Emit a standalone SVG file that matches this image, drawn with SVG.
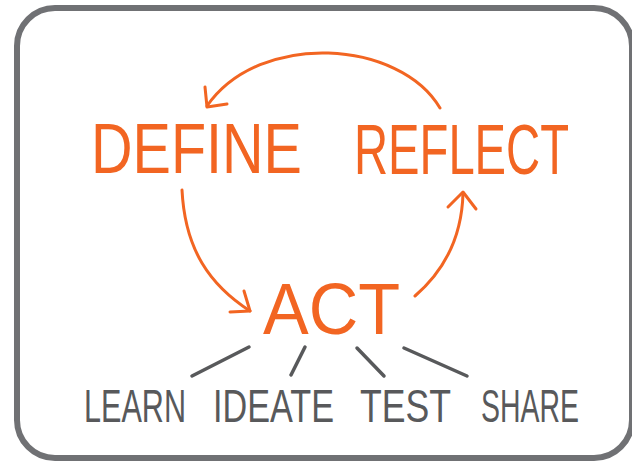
<svg xmlns="http://www.w3.org/2000/svg" width="632" height="463" viewBox="0 0 632 463">
  <style>
    .orange { fill: #f26522; font-family: "Liberation Sans", Arial, sans-serif; }
    .gray { fill: #58595b; font-family: "Liberation Sans", Arial, sans-serif; }
    .arc { fill: none; stroke: #f26522; stroke-width: 3; stroke-linecap: round; stroke-linejoin: round; }
    .link { fill: none; stroke: #58595b; stroke-width: 3.5; stroke-linecap: round; }
  </style>
  <rect width="632" height="463" fill="#ffffff"/>
  <rect id="frame" x="17" y="8" width="615" height="450" rx="38" ry="38" fill="#ffffff" stroke="#707174" stroke-width="6"/>

  <g id="connectors">
    <path class="arc" d="M440,108 C400,40 260,30 207,106"/>
    <path class="arc" d="M205,87 L207,107 L227,104"/>
    <path class="arc" d="M182,190 C185,250 210,285 250,311"/>
    <path class="arc" d="M244,291 L250,311 L230,312"/>
    <path class="arc" d="M415,296 C445,270 462,235 463,193"/>
    <path class="arc" d="M448,207 L463,192 L476,209"/>
    <line class="link" x1="249" y1="347" x2="192" y2="376"/>
    <line class="link" x1="305" y1="347" x2="291" y2="375"/>
    <line class="link" x1="357" y1="348" x2="384" y2="376"/>
    <line class="link" x1="404" y1="348" x2="467" y2="376"/>
  </g>

  <g id="define" transform="translate(91,173) scale(1,1.21)"><text class="orange" x="0" y="0" font-size="57.5" textLength="211" lengthAdjust="spacingAndGlyphs">DEFINE</text></g>
  <g id="reflect" transform="translate(354,174) scale(1,1.48)"><text class="orange" x="0" y="0" font-size="47.2" textLength="215" lengthAdjust="spacingAndGlyphs">REFLECT</text></g>
  <g id="act" transform="translate(263,334) scale(1,1.06)"><text class="orange" x="0" y="0" font-size="68.5" textLength="137" lengthAdjust="spacingAndGlyphs">ACT</text></g>
  <g id="learn" transform="translate(84,422) scale(1,1.5)"><text class="gray" x="0" y="0" font-size="30.6" textLength="102" lengthAdjust="spacingAndGlyphs">LEARN</text></g>
  <g id="ideate" transform="translate(213,422) scale(1,1.375)"><text class="gray" x="0" y="0" font-size="33.5" textLength="121" lengthAdjust="spacingAndGlyphs">IDEATE</text></g>
  <g id="test" transform="translate(360,422) scale(1,1.29)"><text class="gray" x="0" y="0" font-size="35.6" textLength="91" lengthAdjust="spacingAndGlyphs">TEST</text></g>
  <g id="share" transform="translate(481,422) scale(1,1.62)"><text class="gray" x="0" y="0" font-size="28.4" textLength="98" lengthAdjust="spacingAndGlyphs">SHARE</text></g>
</svg>
